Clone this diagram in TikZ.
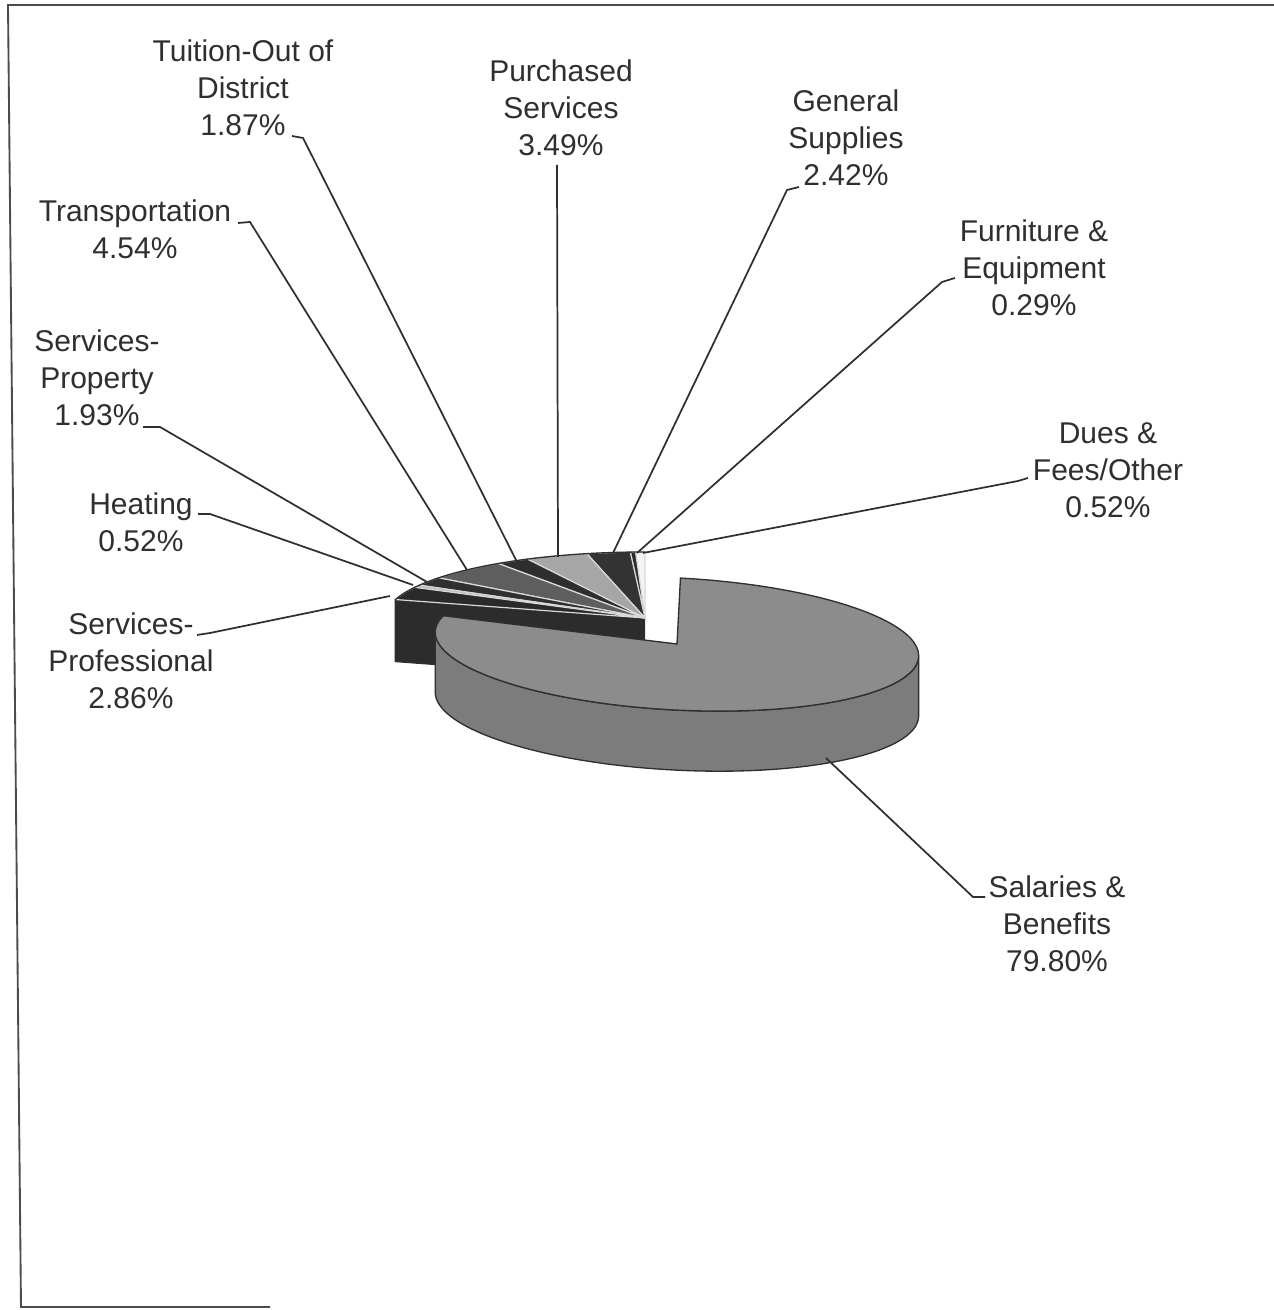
\documentclass[tikz,border=0pt]{standalone}
\usepackage{fontspec}
\setmainfont{Liberation Sans}
\definecolor{duesc}{HTML}{F4F4F4}
\definecolor{furnc}{HTML}{2B2B2B}
\definecolor{genc}{HTML}{333333}
\definecolor{purc}{HTML}{A6A6A6}
\definecolor{tuic}{HTML}{2E2E2E}
\definecolor{trac}{HTML}{5E5E5E}
\definecolor{proc}{HTML}{303030}
\definecolor{heac}{HTML}{B8B8B8}
\definecolor{profc}{HTML}{2A2A2A}
\definecolor{profside}{HTML}{2C2C2C}
\definecolor{bigtop}{HTML}{8C8C8C}
\definecolor{bigside}{HTML}{7C7C7C}
\definecolor{inkc}{HTML}{2F2F2F}
\begin{document}
\begin{tikzpicture}[x=0.75pt,y=0.75pt,
  lbl/.style={font=\fontsize{22.5}{27.75}\selectfont, text=inkc, align=center, inner sep=0pt, anchor=north},
  leader/.style={draw=inkc, line width=1.3pt},
  frameline/.style={draw=black!70, line width=1.4pt},
  pieedge/.style={draw=inkc, line width=1pt},
  sepline/.style={draw=white!85!black, line width=0.9pt}]
\path[use as bounding box] (0,0) rectangle (1274,1310);
% frame
\draw[frameline] (1274,1305) -- (8,1305) -- (21,3) -- (270,3);
% ---- small slices (rest of the pie) ----
\coordinate (C2) at (645,692);
\coordinate (C2b) at (645,630);
\fill[profside] (C2) -- ++(163.76:260 and 66) -- ++(0,-62) -- (C2b) -- cycle;
\foreach \s/\e/\c in {0/0.52/duesc, 0.52/0.81/furnc, 0.81/3.23/genc, 3.23/6.72/purc,
  6.72/8.59/tuic, 8.59/13.13/trac, 13.13/15.06/proc, 15.06/15.58/heac, 15.58/18.44/profc}{
  \filldraw[fill=\c, sepline] (C2) -- ++({90+4*\s}:260 and 66)
    arc[start angle={90+4*\s}, end angle={90+4*\e}, x radius=260, y radius=66] -- cycle;
}
\draw[pieedge] (C2) ++(90:260 and 66)
   arc[start angle=90, end angle=163.76, x radius=260, y radius=66] -- ++(0,-62) -- (C2b);
% ---- Salaries & Benefits (exploded) ----
\coordinate (C1) at (677,666);
\begin{scope}[shift={(C1)}, rotate=-3]
  \filldraw[fill=bigside, pieedge] (180:242 and 66) -- ++(3.1,-60)
    arc[start angle=180, end angle=360, x radius=242, y radius=66]
    -- (0:242 and 66)
    arc[start angle=360, end angle=180, x radius=242, y radius=66] -- cycle;
  \filldraw[fill=bigtop, pieedge] (0,0) -- (166:242 and 66)
    arc[start angle=166, end angle=450, x radius=242, y radius=66] -- cycle;
\end{scope}
% ---- labels ----
\node[lbl] (tui) at (243,1270) {Tuition-Out of\\District\\1.87\%};
\node[lbl] (pur) at (561,1250) {Purchased\\Services\\3.49\%};
\node[lbl] (gen) at (846,1220) {General\\Supplies\\2.42\%};
\node[lbl] (fur) at (1034,1090) {Furniture \&\\Equipment\\0.29\%};
\node[lbl] (due) at (1108,888) {Dues \&\\Fees/Other\\0.52\%};
\node[lbl] (sal) at (1057,435) {Salaries \&\\Benefits\\79.80\%};
\node[lbl] (prf) at (131,697) {Services-\\Professional\\2.86\%};
\node[lbl] (hea) at (141,817) {Heating\\0.52\%};
\node[lbl] (prp) at (97,980) {Services-\\Property\\1.93\%};
\node[lbl] (tra) at (135,1110) {Transportation\\4.54\%};
% ---- leader lines ----
\coordinate (tuiA) at (292,1174); \coordinate (tuiB) at (303,1172); \coordinate (tuiE) at (517,748);
\coordinate (purA) at (557,1145); \coordinate (purE) at (558,753);
\coordinate (genA) at (799,1123); \coordinate (genB) at (787,1120); \coordinate (genE) at (613,757);
\coordinate (furA) at (955,1032); \coordinate (furB) at (942,1028); \coordinate (furE) at (637,757);
\coordinate (dueA) at (1028,832); \coordinate (dueB) at (1018,829); \coordinate (dueE) at (643,757);
\coordinate (salA) at (985,413); \coordinate (salB) at (973,413); \coordinate (salE) at (826,552);
\coordinate (prfA) at (197,675); \coordinate (prfB) at (210,677); \coordinate (prfE) at (390,714);
\coordinate (heaA) at (198,796); \coordinate (heaB) at (210,796); \coordinate (heaE) at (413,725);
\coordinate (prpA) at (143,883); \coordinate (prpB) at (160,883); \coordinate (prpE) at (427,728);
\coordinate (traA) at (238,1087); \coordinate (traB) at (250,1088); \coordinate (traE) at (467,740);
\draw[leader] (tuiA) -- (tuiB) -- (tuiE);
\draw[leader] (purA) -- (purE);
\draw[leader] (genA) -- (genB) -- (genE);
\draw[leader] (furA) -- (furB) -- (furE);
\draw[leader] (dueA) -- (dueB) -- (dueE);
\draw[leader] (salA) -- (salB) -- (salE);
\draw[leader] (prfA) -- (prfB) -- (prfE);
\draw[leader] (heaA) -- (heaB) -- (heaE);
\draw[leader] (prpA) -- (prpB) -- (prpE);
\draw[leader] (traA) -- (traB) -- (traE);
\end{tikzpicture}
\end{document}
